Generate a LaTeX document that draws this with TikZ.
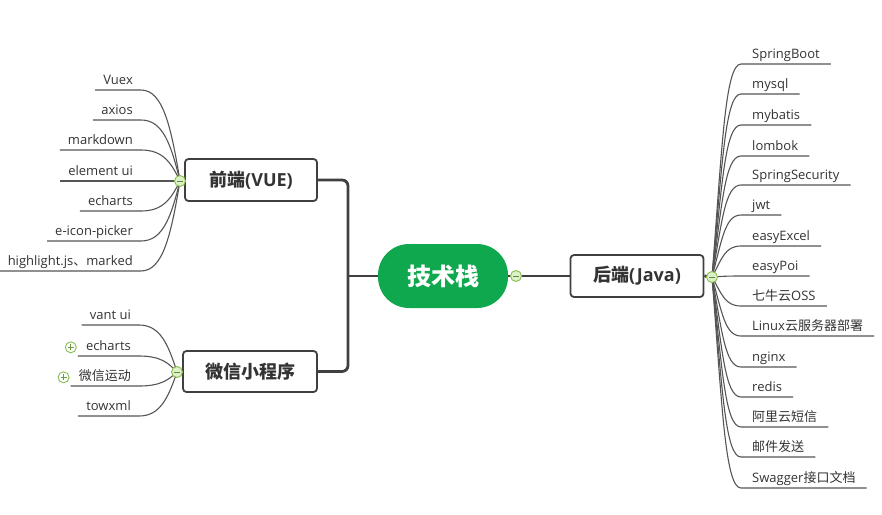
\documentclass[tikz,border=0pt]{standalone}
\usepackage{fontspec}
\setmainfont{Open Sans}
\newfontfamily\zhfont{Noto Sans CJK SC}
\newcommand{\zh}[1]{{\zhfont #1}}
\definecolor{rootgreen}{HTML}{10A84E}
\definecolor{mainline}{HTML}{404040}
\definecolor{leafline}{HTML}{555555}
\definecolor{txt}{HTML}{333333}
\definecolor{cfill}{HTML}{DDF0C8}
\definecolor{cdraw}{HTML}{86BF4E}
\definecolor{cminus}{HTML}{5E8A3A}
\tikzset{
  main/.style={draw=mainline, line width=2.8pt},
  leaf/.style={draw=leafline, line width=1.1pt},
  box/.style={draw=mainline, line width=1.8pt, fill=white, rounded corners=3.5pt,
    minimum height=42pt, text=txt, font=\fontsize{18}{20}\selectfont\bfseries},
  rootbox/.style={fill=rootgreen, rounded corners=31pt, minimum width=130pt,
    minimum height=64pt, text=white, font=\fontsize{24}{26}\selectfont\bfseries},
  leafR/.style={anchor=south west, inner xsep=11pt, inner ysep=2pt, text height=10pt,
    text depth=3pt, font=\fontsize{13}{15}\selectfont, text=txt},
  leafL/.style={anchor=south east, inner xsep=8pt, inner ysep=2pt, text height=10pt,
    text depth=3pt, font=\fontsize{13}{15}\selectfont, text=txt},
  collapse/.style={circle, draw=cdraw, fill=cfill, line width=0.9pt, minimum size=11pt,
    inner sep=0pt, path picture={\draw[cminus, line width=1pt]
      ([xshift=-3pt]path picture bounding box.center) -- ([xshift=3pt]path picture bounding box.center);}},
  expand/.style={circle, draw=cdraw, fill=white, line width=0.9pt, minimum size=11pt,
    inner sep=0pt, path picture={\draw[cdraw!80!black, line width=1pt]
      ([xshift=-3pt]path picture bounding box.center) -- ([xshift=3pt]path picture bounding box.center)
      ([yshift=-3pt]path picture bounding box.center) -- ([yshift=3pt]path picture bounding box.center);}},
}
\begin{document}
\begin{tikzpicture}[x=1pt, y=-1pt]
\useasboundingbox (0,0) rectangle (882,514);

% main nodes
\node[rootbox] (root) at (443,276) {\zh{技术栈}};
\node[box, minimum width=133pt] (hd) at (637,276) {\zh{后端}(Java)};
\node[box, minimum width=132pt] (qd) at (251,180) {\zh{前端}(VUE)};
\node[box, minimum width=134pt, minimum height=41pt] (wx) at (250,371.5) {\zh{微信小程序}};
\coordinate (j) at (348,276);
\coordinate (rcp) at (516,276);
\coordinate (hcp) at (712,277);
\coordinate (qcp) at (180,181);
\coordinate (wcp) at (177,372);

% main connectors
\draw[main, rounded corners=6pt] (qd.east) -| (j);
\draw[main, rounded corners=6pt] (wx.east) -| (j);
\draw[main] (j) -- (root.west);
\draw[main] (root.east) -- (hd.west);
\draw[main] (hd.east) -- (hcp);
\draw[main] (qd.west) -- (qcp);
\draw[main] (wx.west) -- (wcp);

% right leaves
\foreach \i/\y/\t in {1/64/SpringBoot, 2/94/mysql, 3/125/mybatis, 4/156/lombok,
  5/185/SpringSecurity, 6/215/jwt, 7/246/easyExcel, 8/276/easyPoi,
  9/306/\zh{七牛云}OSS, 10/336/Linux\zh{云服务器部署}, 11/367/nginx, 12/397/redis,
  13/427/\zh{阿里云短信}, 14/457/\zh{邮件发送}, 15/488/Swagger\zh{接口文档}}{
  \node[leafR] (r\i) at (741,\y) {\t};
  \pgfmathsetmacro\ym{277+0.6*(\y-277)}
  \draw[leaf] (hcp) .. controls (722,\ym) and (725,\y) .. (r\i.south west) -- (r\i.south east);
}

% front-end leaves
\foreach \i/\y/\t in {1/90/Vuex, 2/120/axios, 3/150/markdown, 4/181/element ui,
  5/211/echarts, 6/241/e-icon-picker, 7/271/highlight.js\zh{、}marked}{
  \node[leafL] (q\i) at (141,\y) {\t};
  \pgfmathsetmacro\ym{181+0.6*(\y-181)}
  \draw[leaf] (qcp) .. controls (171,\ym) and (163,\y) .. (q\i.south east) -- (q\i.south west);
}

% wechat leaves
\foreach \i/\y/\t in {1/325/vant ui, 2/356/echarts, 3/386/\zh{微信运动}, 4/416/towxml}{
  \node[leafL] (w\i) at (139,\y) {\t};
  \pgfmathsetmacro\ym{372+0.6*(\y-372)}
  \draw[leaf] (wcp) .. controls (168,\ym) and (160,\y) .. (w\i.south east) -- (w\i.south west);
}
\node[expand] (p2) at ([xshift=-7pt,yshift=0pt]w2.west) {};
\node[expand] (p3) at ([xshift=-7pt,yshift=0pt]w3.west) {};

% collapse markers
\node[collapse] (rc) at (rcp) {};
\node[collapse] (hc) at (hcp) {};
\node[collapse] (qc) at (qcp) {};
\node[collapse] (wc) at (wcp) {};
\end{tikzpicture}
\end{document}
